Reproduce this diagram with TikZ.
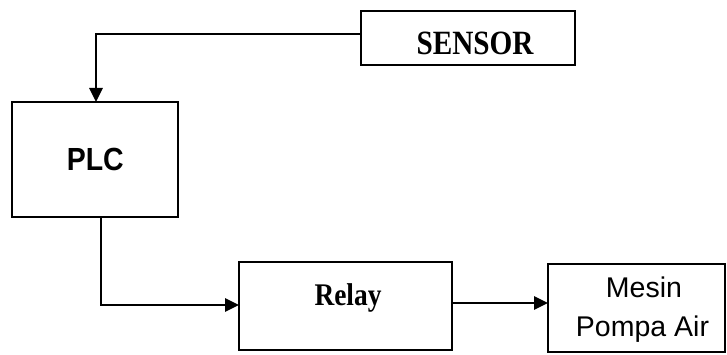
\documentclass[tikz,border=0pt]{standalone}
\usepackage{fontspec}
\setmainfont{Liberation Serif}
\newfontfamily\arialfont{Liberation Sans}
\usetikzlibrary{arrows.meta}

\tikzset{
  block/.style={draw, line width=1.5pt, rectangle, outer sep=0pt, inner sep=0pt},
  conn/.style={line width=2.7pt, line join=miter},
  flow/.style={conn, -{Triangle[length=14pt,width=13pt]}},
  txt/.style={inner sep=0pt, outer sep=0pt, anchor=base}
}

\begin{document}
\begin{tikzpicture}[x=1pt,y=-1pt]
  \useasboundingbox (0,0) rectangle (727,355);

  % blocks
  \node[block, minimum width=214pt, minimum height=54pt]  (sensor) at (468,38) {};
  \node[block, minimum width=166pt, minimum height=115pt] (plc)    at (95,159.5) {};
  \node[block, minimum width=213pt, minimum height=88pt]  (relay)  at (345.5,306) {};
  \node[block, minimum width=177pt, minimum height=88pt]  (mesin)  at (636.5,308) {};

  % block captions
  \node[txt] (sensortxt) at (475,55)
    {\fontsize{34}{40}\selectfont\bfseries\scalebox{0.86}[1]{SENSOR}};
  \node[txt] (plctxt) at (95.3,170.7)
    {\arialfont\fontsize{32}{38}\selectfont\bfseries\scalebox{0.89}[1]{PLC}};
  \node[txt] (relaytxt) at (348,305)
    {\fontsize{31.5}{38}\selectfont\bfseries\scalebox{0.87}[1]{Relay}};
  \node[txt] (mesintxtA) at (644,297)
    {\arialfont\fontsize{28.5}{34}\selectfont Mesin};
  \node[txt] (mesintxtB) at (642.5,336)
    {\arialfont\fontsize{28.5}{34}\selectfont Pompa Air};

  % connector bends
  \coordinate (bendA) at (96,34);
  \coordinate (bendB) at (101,305);
  \coordinate (levelC) at (500,303);

  % connectors
  \draw[flow] (sensor.west |- bendA) -- (bendA) -- (plc.north -| bendA);
  \draw[flow] (plc.south -| bendB) -- (bendB) -- (relay.west |- bendB);
  \draw[flow] (relay.east |- levelC) -- (mesin.west |- levelC);
\end{tikzpicture}
\end{document}
